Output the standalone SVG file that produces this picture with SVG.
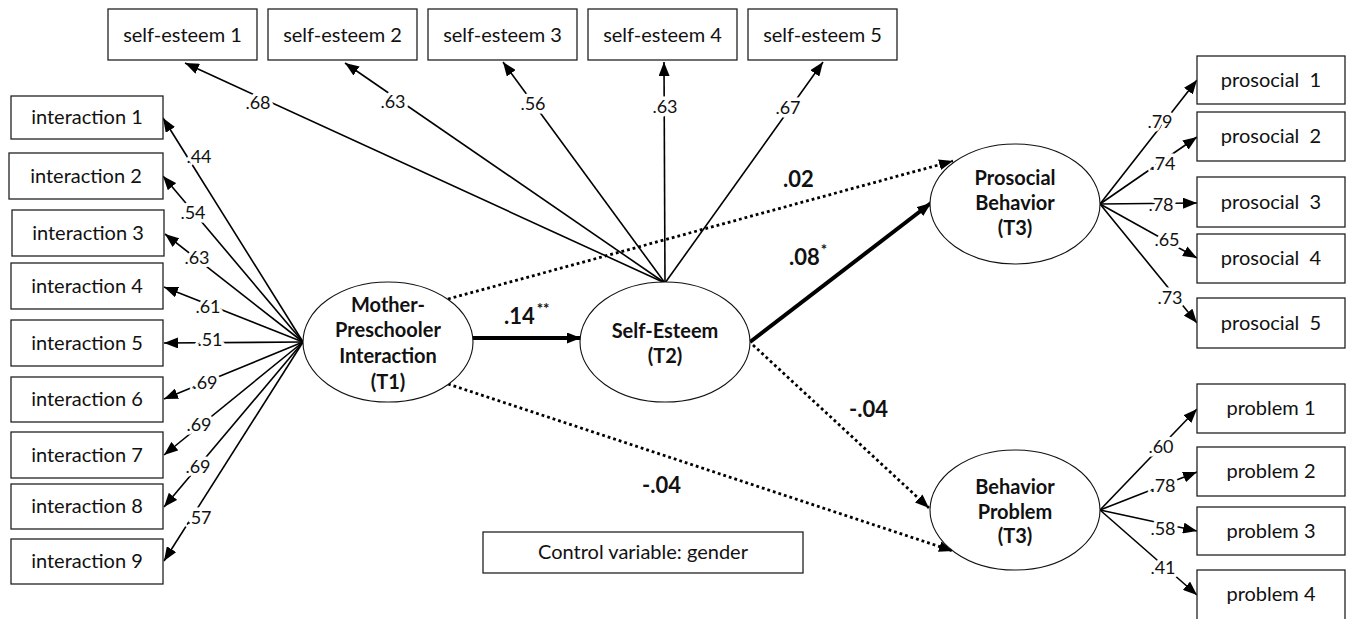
<svg xmlns="http://www.w3.org/2000/svg" width="1348" height="619" viewBox="0 0 1348 619">
<style>
.box{fill:#fff;stroke:#222;stroke-width:1.3}
.ell{fill:#fff;stroke:#111;stroke-width:1.1}
.bt{font-family:Lato,"Liberation Sans",sans-serif;font-size:20px;fill:#111;text-anchor:middle;white-space:pre}
.et{font-family:Lato,"Liberation Sans",sans-serif;font-size:20px;font-weight:bold;fill:#111;text-anchor:middle}
.ln{fill:none;stroke:#000;stroke-width:1.6;marker-end:url(#ah)}
.thick{fill:none;stroke:#000;stroke-width:4;marker-end:url(#ah2)}
.dot{fill:none;stroke:#000;stroke-width:2.8;stroke-dasharray:2.8 3;marker-end:url(#ah2)}
.lb{font-family:Lato,"Liberation Sans",sans-serif;font-size:18px;fill:#111;text-anchor:middle;paint-order:stroke;stroke:#fff;stroke-width:7px;stroke-linejoin:round}
.pl{font-family:Lato,"Liberation Sans",sans-serif;font-size:22px;font-weight:bold;fill:#111}
.sup{font-size:15px}
</style>
<defs>
<marker id="ah" markerUnits="userSpaceOnUse" markerWidth="14" markerHeight="11" refX="14" refY="5.5" orient="auto"><path d="M0,0 L14,5.5 L0,11 z" fill="#000"/></marker>
<marker id="ah2" markerUnits="userSpaceOnUse" markerWidth="14" markerHeight="11" refX="14" refY="5.5" orient="auto"><path d="M0,0 L14,5.5 L0,11 z" fill="#000"/></marker>
</defs>
<g id="connectors">
<path class="ln" d="M665,283 L185,63"/>
<path class="ln" d="M665,283 L345,63"/>
<path class="ln" d="M665,283 L503,62"/>
<path class="ln" d="M665,283 L664,62"/>
<path class="ln" d="M665,283 L823,62"/>
<path class="ln" d="M303,342 L163,118"/>
<path class="ln" d="M303,342 L163,176"/>
<path class="ln" d="M303,342 L165,234"/>
<path class="ln" d="M303,342 L164,287"/>
<path class="ln" d="M303,342 L164,343"/>
<path class="ln" d="M303,342 L164,399"/>
<path class="ln" d="M303,342 L164,455"/>
<path class="ln" d="M303,342 L164,507"/>
<path class="ln" d="M303,342 L164,561"/>
<path class="ln" d="M1100,204 L1197,80"/>
<path class="ln" d="M1100,204 L1197,137"/>
<path class="ln" d="M1100,204 L1197,203"/>
<path class="ln" d="M1100,204 L1197,258"/>
<path class="ln" d="M1100,204 L1197,323"/>
<path class="ln" d="M1100,510 L1197,409"/>
<path class="ln" d="M1100,510 L1197,472"/>
<path class="ln" d="M1100,510 L1197,531"/>
<path class="ln" d="M1100,510 L1197,595"/>
<path class="thick" d="M473,338 L581,338"/>
<path class="thick" d="M750,342 L931,203"/>
<path class="dot" d="M448,299 L953,161"/>
<path class="dot" d="M753,345 L929,508"/>
<path class="dot" d="M448,384 L953,551"/>
<text class="lb" x="258" y="109">.68</text>
<text class="lb" x="393" y="108">.63</text>
<text class="lb" x="533" y="110">.56</text>
<text class="lb" x="665" y="113">.63</text>
<text class="lb" x="788" y="114">.67</text>
<text class="lb" x="199" y="163">.44</text>
<text class="lb" x="193" y="219">.54</text>
<text class="lb" x="197" y="264">.63</text>
<text class="lb" x="208" y="313">.61</text>
<text class="lb" x="210" y="346">.51</text>
<text class="lb" x="205" y="389">.69</text>
<text class="lb" x="199" y="431">.69</text>
<text class="lb" x="198" y="473">.69</text>
<text class="lb" x="199" y="524">.57</text>
<text class="lb" x="1160" y="128">.79</text>
<text class="lb" x="1163" y="170">.74</text>
<text class="lb" x="1161" y="211">.78</text>
<text class="lb" x="1167" y="246">.65</text>
<text class="lb" x="1170" y="304">.73</text>
<text class="lb" x="1161" y="453">.60</text>
<text class="lb" x="1163" y="492">.78</text>
<text class="lb" x="1163" y="535">.58</text>
<text class="lb" x="1163" y="574">.41</text>
<text class="pl" x="504" y="324">.14<tspan class="sup" dx="2" dy="-10">**</tspan></text>
<text class="pl" x="789" y="265">.08<tspan class="sup" dx="1" dy="-10">*</tspan></text>
<text class="pl" x="783" y="187">.02</text>
<text class="pl" x="849" y="417">-.04</text>
<text class="pl" x="642" y="493">-.04</text>
</g>
<g id="se1"><rect class="box" x="108" y="9" width="149" height="51"/><text class="bt" x="182.5" y="42">self-esteem 1</text></g>
<g id="se2"><rect class="box" x="268" y="9" width="149" height="51"/><text class="bt" x="342.5" y="42">self-esteem 2</text></g>
<g id="se3"><rect class="box" x="428" y="9" width="149" height="51"/><text class="bt" x="502.5" y="42">self-esteem 3</text></g>
<g id="se4"><rect class="box" x="588" y="9" width="149" height="51"/><text class="bt" x="662.5" y="42">self-esteem 4</text></g>
<g id="se5"><rect class="box" x="748" y="9" width="149" height="51"/><text class="bt" x="822.5" y="42">self-esteem 5</text></g>
<g id="in1"><rect class="box" x="11" y="96" width="152" height="43"/><text class="bt" x="87" y="124">interaction 1</text></g>
<g id="in2"><rect class="box" x="9" y="153" width="154" height="46"/><text class="bt" x="86" y="183">interaction 2</text></g>
<g id="in3"><rect class="box" x="12" y="210" width="152" height="46"/><text class="bt" x="88" y="240">interaction 3</text></g>
<g id="in4"><rect class="box" x="11" y="263" width="152" height="46"/><text class="bt" x="87" y="293">interaction 4</text></g>
<g id="in5"><rect class="box" x="11" y="320" width="152" height="46"/><text class="bt" x="87" y="350">interaction 5</text></g>
<g id="in6"><rect class="box" x="11" y="377" width="152" height="45"/><text class="bt" x="87" y="406">interaction 6</text></g>
<g id="in7"><rect class="box" x="11" y="432" width="152" height="46"/><text class="bt" x="87" y="462">interaction 7</text></g>
<g id="in8"><rect class="box" x="11" y="484" width="152" height="45"/><text class="bt" x="87" y="513">interaction 8</text></g>
<g id="in9"><rect class="box" x="11" y="539" width="152" height="45"/><text class="bt" x="87" y="568">interaction 9</text></g>
<g id="ps1"><rect class="box" x="1197" y="56" width="148" height="48"/><text class="bt" x="1271" y="87">prosocial  1</text></g>
<g id="ps2"><rect class="box" x="1197" y="112" width="148" height="49"/><text class="bt" x="1271" y="143">prosocial  2</text></g>
<g id="ps3"><rect class="box" x="1197" y="177" width="148" height="50"/><text class="bt" x="1271" y="209">prosocial  3</text></g>
<g id="ps4"><rect class="box" x="1197" y="234" width="148" height="49"/><text class="bt" x="1271" y="265">prosocial  4</text></g>
<g id="ps5"><rect class="box" x="1197" y="298" width="148" height="50"/><text class="bt" x="1271" y="330">prosocial  5</text></g>
<g id="pb1"><rect class="box" x="1197" y="384" width="148" height="49"/><text class="bt" x="1271" y="415">problem 1</text></g>
<g id="pb2"><rect class="box" x="1197" y="447" width="148" height="49"/><text class="bt" x="1271" y="478">problem 2</text></g>
<g id="pb3"><rect class="box" x="1197" y="507" width="148" height="48"/><text class="bt" x="1271" y="538">problem 3</text></g>
<g id="pb4"><rect class="box" x="1197" y="570" width="148" height="50"/><text class="bt" x="1271" y="601">problem 4</text></g>
<g id="mother"><ellipse class="ell" cx="388" cy="342" rx="85" ry="60"/><text class="et" x="388" y="312">Mother-</text><text class="et" x="388" y="337">Preschooler</text><text class="et" x="388" y="363">Interaction</text><text class="et" x="388" y="389">(T1)</text></g>
<g id="selfesteem"><ellipse class="ell" cx="665" cy="342" rx="85" ry="60"/><text class="et" x="665" y="338">Self-Esteem</text><text class="et" x="665" y="363">(T2)</text></g>
<g id="prosocial"><ellipse class="ell" cx="1015" cy="204" rx="85" ry="60"/><text class="et" x="1015" y="185">Prosocial</text><text class="et" x="1015" y="210">Behavior</text><text class="et" x="1015" y="235">(T3)</text></g>
<g id="problem"><ellipse class="ell" cx="1015" cy="510" rx="85" ry="60"/><text class="et" x="1015" y="494">Behavior</text><text class="et" x="1015" y="519">Problem</text><text class="et" x="1015" y="543">(T3)</text></g>
<g id="control"><rect class="box" x="483" y="532" width="320" height="41"/><text class="bt" x="643" y="559">Control variable: gender</text></g>
</svg>
